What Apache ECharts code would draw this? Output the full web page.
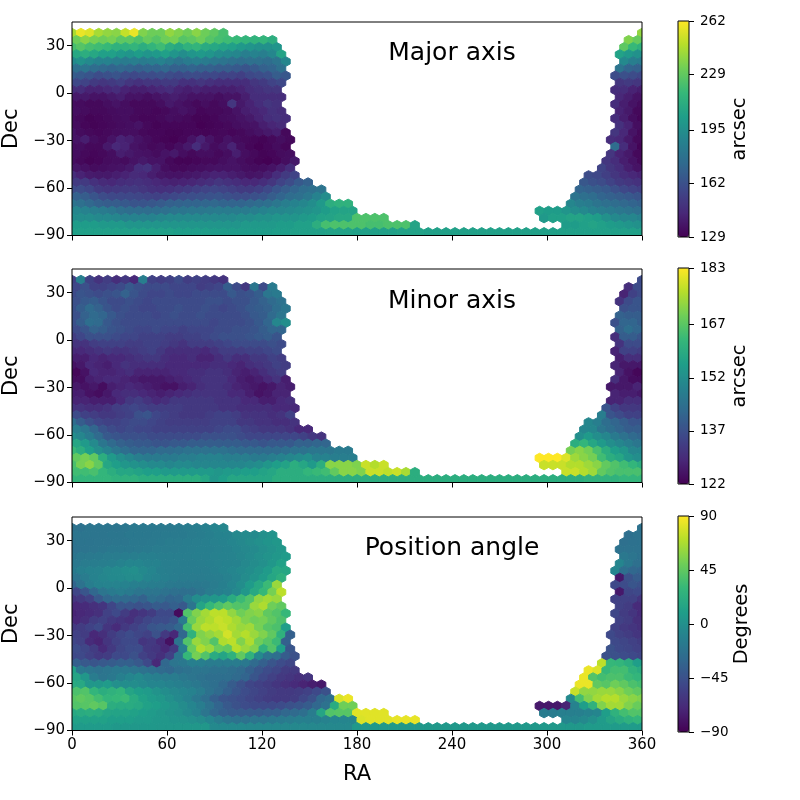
<!DOCTYPE html>
<html>
<head>
<meta charset="utf-8">
<script src="https://cdn.jsdelivr.net/npm/echarts@6/dist/echarts.min.js"></script>
<style>html,body{margin:0;background:#fff}#c{width:800px;height:800px}</style>
</head>
<body>
<div id="c"></div>
<script>
// row centres in Dec, top to bottom
const decRows = [38,33.5,29,24.5,20,15.5,11,6.5,2,-2.5,-7,-11.5,-16,-20.5,-25,-29.5,-34,-38.5,-43,-47.5,-52,-56.5,-61,-65.5,-70,-74.5,-79,-83.5,-88];
const raTicks = [0,60,120,180,240,300,360];
const decTicks = [-90,-60,-30,0,30];
const panelNames = ['Major axis','Minor axis','Position angle'];
const units = ['arcsec','arcsec','Degrees'];
const majorTicks = [129,162,195,229,262];
const minorTicks = [122,137,152,167,183];
const angleTicks = [-90,-45,0,45,90];
const viridis = ['#440154','#482878','#3e4989','#31688e','#26828e','#1f9e89','#35b779','#6ece58','#b5de2b','#fde725'];

// left block of every row, read from RA 0 eastward
const majorLeft = [
[245,258,255,244,240,238,250,258,236,232,232,240,236,232,238,232,228,222],
[232,238,234,232,234,228,228,224,230,226,232,234,226,228,232,226,222,220,218,216,215,216,212],
[222,226,222,220,218,214,214,216,212,216,220,212,208,214,216,210,208,206,204,200,198,196,196,198],
[208,212,208,204,204,200,198,202,198,200,204,198,194,198,200,198,194,192,190,186,188,186,190,206],
[192,196,192,188,188,186,184,186,184,186,188,184,180,184,186,184,182,180,178,176,178,178,176,180,190],
[178,180,176,174,172,174,172,170,172,172,174,170,170,172,170,170,168,168,166,164,166,170,172,178],
[168,166,164,160,162,164,160,158,160,160,162,160,158,160,160,158,158,156,156,154,158,160,162,168,165],
[158,156,152,150,152,154,150,148,150,150,152,152,148,148,150,148,146,146,146,146,150,152,156,158],
[146,146,142,142,144,146,142,140,140,142,144,146,142,140,142,140,140,140,140,142,146,148,150,150],
[138,138,136,136,138,140,136,136,134,136,138,140,138,136,136,136,134,136,136,140,146,146,146,146],
[134,133,132,132,134,136,134,132,132,132,134,138,136,134,132,134,132,134,150,138,142,146,150,148],
[134,133,132,132,133,134,134,132,132,131,132,134,136,134,131,132,132,133,136,140,142,144,148,146],
[133,132,130,131,132,133,134,132,131,131,132,134,133,132,130,130,131,133,134,136,138,142,146,148,146],
[133,131,130,131,132,133,134,136,132,130,131,131,131,131,129,130,131,132,134,135,136,140,143,145],
[136,133,132,131,132,133,134,134,132,131,131,130,130,131,131,130,131,132,131,132,134,136,138,140,132],
[136,140,134,132,136,142,140,136,133,131,130,129,131,136,142,136,132,136,133,132,131,130,132,134,132],
[134,134,132,132,138,144,142,136,134,132,133,131,134,138,146,138,133,136,142,134,131,129,131,133,131],
[134,132,131,132,134,140,138,136,135,133,136,138,134,132,134,134,132,134,140,134,132,130,131,133,134],
[134,132,130,131,133,134,133,136,138,136,136,132,130,130,131,132,132,134,136,134,132,130,129,131,134,138],
[137,135,133,134,135,136,138,146,148,140,134,132,132,133,134,135,136,136,136,134,133,134,136,140,146],
[146,142,139,138,138,140,142,145,144,140,137,136,136,137,138,140,142,142,140,138,136,137,140,146,152,156],
[152,152,148,145,144,146,147,148,146,144,142,141,142,143,145,147,150,148,146,144,144,146,150,156,160,166,170],
[160,160,157,152,150,151,152,152,150,148,147,148,150,152,154,156,157,156,154,152,152,154,158,164,168,172,176,178,180],
[170,168,164,160,158,158,158,157,156,155,156,158,160,161,162,163,164,162,160,160,162,164,168,172,176,178,182,188,194],
[180,178,174,170,168,168,166,164,164,165,167,170,171,172,172,173,174,172,172,172,174,176,178,182,186,188,190,194,200,212,214,214],
[190,188,186,184,182,178,176,176,176,177,178,180,181,182,182,183,184,184,184,184,186,188,190,190,192,194,196,198,202,205,206,206],
[194,194,194,192,192,190,188,188,188,188,190,192,192,192,192,192,192,192,192,194,194,196,196,198,198,198,200,202,205,206,208,208,224,224,224,224],
[202,202,202,200,200,200,198,198,198,198,198,198,198,198,198,198,198,198,198,200,200,200,200,202,202,204,204,212,222,224,224,224,224,222,222,224,224,224,206],
[204,204,204,204,204,204,204,204,204,204,204,204,203,203,203,203,202,202,202,202,202,202,202,203,203,204,204,204,204,205,205,205,204,204,204,204,204,205,205,205,204,204,204,204,204,204,204,204,204,204,204,204,204,204,204,204,204,204,204,204,204,204,204,204,204]
];
// right block of every row, the last value sits next to RA 360
const majorRight = [
[240],[236,230],[228,218,214],[205,200,196],[192,186,184],[180,172,170],[160,162,160,158],[150,152,150],[146,146,142,140],[144,140,136],
[146,140,136,133],[142,138,132],[146,140,134,131],[148,142,134],[150,144,136,132],[146,144,138,132],[176,146,136,130],[150,142,138,132],
[150,146,140,136,132],[156,150,146,140,136],[160,158,154,150,146,144,142],[165,162,160,156,152,150,148],
[172,170,168,166,162,158,156,154],[180,178,176,172,170,168,166,164],[190,186,184,180,178,176,174,172,170],
[204,202,202,198,194,192,188,186,184,182,180,178],[200,204,204,206,206,204,202,196,192,190,190,188],[202,202,204,206,204,202,200,198,196],[]
];

const minorLeft = [
[134,148,134,131,133,130,132,129,148,134,133,134,136,133,134,133,132,131],
[135,137,134,134,135,136,139,137,136,136,136,135,135,135,133,134,135,140,136,132,146,136,147],
[136,138,137,136,137,138,141,138,136,135,135,136,135,135,136,136,136,136,139,137,138,140,146,147],
[137,139,140,138,136,136,137,136,135,136,136,136,136,136,136,137,137,136,137,137,139,141,143,145],
[137,140,143,141,138,136,137,136,135,135,136,136,137,136,136,137,136,135,136,137,139,140,141,144,146],
[137,141,143,142,139,137,136,136,136,135,136,137,136,136,137,136,136,136,136,137,139,140,143,146],
[137,140,144,143,139,137,136,136,136,136,136,136,136,136,136,136,135,136,136,136,137,139,142,150,152],
[136,138,141,140,138,137,136,135,135,136,135,135,134,135,135,135,136,136,137,137,138,140,142,142],
[133,135,137,137,137,136,135,135,134,134,134,133,133,134,134,135,136,137,137,137,138,139,140,138],
[131,131,133,134,134,134,133,133,134,134,133,132,131,133,133,133,134,135,136,136,136,136,137,136],
[129,129,130,131,132,131,131,132,133,134,132,130,130,130,130,129,131,133,133,133,134,134,135,136],
[127,127,129,128,129,129,130,131,132,132,130,129,129,130,128,128,130,132,130,130,132,132,134,133],
[125,126,129,128,127,129,131,130,130,130,130,129,129,129,129,129,130,130,129,128,130,131,132,134,133],
[123,125,129,128,128,129,130,128,128,128,128,129,129,130,130,131,131,130,128,127,128,130,132,133],
[124,124,127,128,129,129,128,127,126,126,126,127,128,129,130,131,131,131,129,127,126,127,129,131,127],
[126,125,126,124,127,128,129,128,127,126,125,125,127,128,130,131,131,130,128,127,126,125,126,128,127],
[127,127,125,124,126,129,130,130,129,128,127,128,129,130,131,131,131,131,129,129,127,125,126,128,128],
[128,128,127,127,127,129,132,133,131,129,130,132,132,132,132,132,131,131,131,129,129,127,127,129,130],
[131,131,130,130,131,133,134,135,134,133,133,133,133,132,132,132,132,131,131,130,130,130,130,129,129,129],
[136,134,133,132,132,133,134,137,138,135,134,133,132,132,132,133,134,134,133,131,131,131,130,131,134],
[144,140,137,135,134,134,135,136,136,135,134,133,133,133,133,133,134,134,134,132,132,131,131,130,130,131],
[148,146,142,138,136,135,136,135,135,134,134,134,134,134,134,134,135,136,136,134,133,132,132,132,131,129,129],
[152,150,147,143,139,138,137,137,137,136,136,136,136,136,136,137,137,137,137,136,135,135,135,135,135,135,134,132,131],
[158,155,151,146,143,141,140,139,139,138,138,139,139,140,140,140,140,140,140,139,139,138,139,139,139,141,141,142,142],
[163,160,156,152,149,146,144,142,142,142,143,143,144,145,145,145,145,145,144,143,143,143,143,143,144,145,145,146,146,146,147,147],
[168,170,168,160,155,152,150,148,147,147,147,147,148,148,149,149,149,148,148,148,147,147,148,149,150,151,152,149,149,148,148,148],
[165,170,172,168,158,156,154,153,152,151,151,150,151,151,150,150,150,150,150,150,151,152,154,156,157,160,158,155,160,172,172,172,171,178,176,178],
[164,164,165,162,160,158,158,157,156,156,155,155,155,155,155,155,154,155,155,156,156,157,158,160,160,160,162,163,164,168,172,172,171,178,178,177,178,175,160],
[162,162,162,162,162,161,161,161,160,160,160,160,160,160,160,158,154,156,158,158,158,158,158,160,160,160,160,160,160,160,160,160,160,160,160,160,160,160,160,160,160,160,160,160,160,160,160,160,160,160,160,160,160,160,160,160,160,160,161,161,161,161,162,162,162]
];
const minorRight = [
[136],[130,136],[128,134,136],[131,136,138],[137,138,138],[141,140,140],[137,142,142,140],[141,144,142],[130,140,140,138],[131,136,136],
[128,134,134,133],[127,130,130],[128,126,126,126],[128,125,123],[130,126,124,124],[126,126,126,128],[128,127,127,126],[128,128,130,130],
[138,134,132,132,132],[148,138,136,134,134],[150,148,144,142,140,138,138],[150,150,146,144,142,140,140],
[152,155,152,150,147,145,143,142],[160,162,158,155,152,150,148,146],[170,172,170,165,160,156,154,150,150],
[183,183,183,180,174,172,170,164,160,158,154,152],[178,178,178,176,176,174,172,168,166,164,162,160],[178,178,176,174,168,166,165,165,165],[]
];

const angleLeft = [
[-22,-22,-20,-20,-20,-20,-19,-18,-18,-18,-17,-17,-16,-15,-14,-12,-9,-7],
[-20,-20,-20,-20,-19,-19,-18,-18,-18,-17,-16,-16,-16,-15,-14,-12,-10,-9,-6,-4,-4,0,2],
[-22,-21,-21,-20,-20,-19,-19,-18,-18,-17,-16,-15,-15,-14,-13,-12,-11,-10,-8,-6,-3,0,3,5],
[-22,-21,-20,-19,-18,-18,-18,-17,-16,-15,-15,-15,-14,-13,-12,-12,-11,-10,-8,-6,-4,-1,2,5],
[-20,-18,-17,-16,-15,-15,-14,-13,-12,-12,-13,-13,-13,-13,-12,-12,-11,-10,-9,-7,-4,-1,2,5,8],
[-18,-15,-14,-13,-12,-10,-8,-8,-10,-10,-13,-13,-14,-14,-13,-12,-11,-10,-9,-6,-3,0,5,12],
[-16,-12,-10,-9,-6,-4,-2,-1,-5,-8,-12,-13,-14,-14,-14,-14,-12,-10,-8,-5,-2,2,8,18,16],
[-20,-15,-10,-7,-5,-4,-3,-3,-8,-10,-12,-14,-15,-15,-15,-14,-13,-11,-8,-3,2,8,16,24],
[-32,-22,-14,-10,-9,-9,-10,-12,-13,-14,-15,-17,-18,-18,-18,-17,-15,-12,-8,-2,8,18,32,62],
[-52,-42,-30,-20,-16,-14,-16,-20,-20,-20,-22,-24,-25,-24,-20,-15,-12,-10,-5,5,18,30,52,72],
[-62,-60,-55,-40,-30,-26,-28,-30,-34,-25,-28,-32,-30,-15,-2,2,5,8,20,32,40,60,65,62],
[-70,-68,-65,-62,-52,-42,-42,-45,-42,-38,-40,-35,-40,-20,15,30,38,45,40,40,62,68,50,45],
[-72,-70,-68,-65,-55,-50,-58,-65,-62,-58,-50,-50,-85,40,55,65,72,72,60,50,55,58,45,40,30],
[-70,-66,-58,-55,-60,-62,-65,-58,-52,-48,-48,-42,-15,48,62,68,75,72,65,55,50,52,45,38],
[-60,-58,-54,-50,-62,-68,-60,-55,-50,-42,-40,-38,-30,35,62,72,72,75,68,62,64,52,42,38,10],
[-55,-58,-70,-66,-58,-52,-48,-52,-55,-45,-60,-70,-30,25,55,60,65,78,65,70,62,55,45,25,-35],
[-52,-55,-68,-72,-62,-55,-50,-50,-62,-60,-68,-82,-20,40,62,55,40,68,72,55,68,50,42,32,-35],
[-48,-52,-58,-68,-60,-52,-48,-48,-60,-62,-70,-60,-12,48,68,62,48,45,70,62,55,25,40,10,-42],
[-50,-50,-55,-60,-58,-50,-50,-45,-55,-60,-65,-55,-20,30,52,40,20,15,25,45,25,-5,-20,-25,-38,-45],
[-35,-40,-42,-40,-38,-35,-35,-40,-50,-70,-30,-20,-18,-12,-12,-15,-15,-15,-15,-18,-28,-35,-42,-48,-52],
[12,-18,-20,-22,-20,-18,-18,-20,-22,-25,-28,-30,-25,-22,-20,-20,-22,-22,-25,-28,-35,-42,-48,-52,-58,-60],
[15,5,-15,-20,-18,-12,-8,-5,-10,-12,-15,-15,-18,-20,-22,-25,-25,-25,-28,-32,-42,-50,-55,-60,-62,-65,-62],
[20,18,5,5,8,0,-2,-2,-5,-8,-8,-10,-12,-15,-18,-22,-25,-30,-38,-45,-52,-55,-58,-62,-65,-68,-72,-75,-78],
[38,40,28,22,25,28,15,10,8,2,-2,-6,-8,-10,-15,-22,-28,-35,-42,-48,-52,-55,-58,-60,-60,-58,-55,-50,-45],
[42,45,42,35,28,30,32,20,12,8,5,0,-5,-10,-18,-25,-35,-42,-45,-48,-52,-55,-58,-60,-60,-58,-52,-45,-30,-25,80,85],
[40,42,45,42,22,20,20,18,12,10,6,2,-3,-8,-14,-22,-32,-40,-45,-48,-50,-50,-50,-48,-45,-42,-38,-30,-22,20,50,50],
[18,20,22,20,15,14,14,12,10,8,5,2,0,-5,-10,-20,-30,-35,-38,-38,-38,-38,-36,-35,-30,-28,-25,-15,15,40,42,42,82,82,82,82],
[12,12,12,12,10,10,10,8,8,6,5,3,2,0,-3,-8,-15,-20,-22,-22,-20,-20,-18,-16,-15,-12,-12,-12,-10,-8,-8,-8,80,82,82,82,84,84,84],
[8,8,8,8,8,6,6,6,6,6,5,5,5,5,5,5,-5,-5,-5,-5,-6,-6,-6,-6,-6,-6,-6,-6,-6,-6,-6,-6,6,6,6,6,6,6,6,6,6,6,6,6,6,6,6,6,6,6,6,6,6,6,6,6,6,6,8,8,8,8,8,8,8]
];
const angleRight = [
[-22],[-25,-22],[-24,-23,-22],[-22,-22,-22],[-18,-20,-22],[-8,-18,-24],[-8,-25,-30,-32],[-78,-45,-38],[-50,-48,-42,-45],[-78,-52,-50],
[-55,-55,-55,-62],[-55,-58,-68],[-52,-58,-62,-68],[-55,-58,-66],[-55,-60,-62,-65],[-50,-55,-58,-62],[-50,-52,-55,-58],[-45,-50,-52,-55],
[-45,-45,-48,-50,-52],[72,30,28,22,10],[85,80,30,35,35,25,20],[85,40,35,38,38,32,28],
[85,85,45,42,50,45,38,35],[75,60,60,62,62,58,50,45],[-5,35,55,65,70,70,62,58,55],
[-78,-78,-78,-72,-10,10,25,55,65,65,55,48],[-15,-15,-12,-12,-12,-10,-8,10,25,35,40,40],[-8,-8,-5,0,8,15,20,25,28],[]
];

const cellRa = 5.625, cellDec = 6;

function cells(left, right){
  const out = [];
  decRows.forEach((dec, r) => {
    const shift = r % 2 ? cellRa / 2 : 0;
    left[r].forEach((v, i) => out.push([shift + i * cellRa, dec, v]));
    const n = right[r].length;
    right[r].forEach((v, i) => out.push([360 - shift - (n - 1 - i) * cellRa, dec, v]));
  });
  return out;
}

function hexCell(params, api){
  const ra = api.value(0), dec = api.value(1), hw = cellRa / 2, h = cellDec / 2;
  const pts = [[ra, dec + h], [ra + hw, dec + h / 2], [ra + hw, dec - h / 2], [ra, dec - h], [ra - hw, dec - h / 2], [ra - hw, dec + h / 2]]
    .map(p => api.coord(p));
  const col = api.visual('color');
  return { type: 'polygon', shape: { points: pts }, style: { fill: col, stroke: col, lineWidth: 1 } };
}

const font = 'DejaVu Sans';
const minus = v => String(v).replace('-', '\u2212');
const panels = [
  { top: 22, barTop: 21, left: majorLeft, right: majorRight, ticks: majorTicks, textY: 53 },
  { top: 269, barTop: 268, left: minorLeft, right: minorRight, ticks: minorTicks, textY: 301 },
  { top: 517, barTop: 516, left: angleLeft, right: angleRight, ticks: angleTicks, textY: 548 }
];

const grid = [], xAxis = [], yAxis = [], series = [], visualMap = [], title = [];
panels.forEach((p, i) => {
  grid.push({ left: 72, top: p.top, width: 570, height: 213.5, show: true, borderColor: '#000', borderWidth: 1, z: 5, outerBoundsMode: 'none' });
  xAxis.push({
    type: 'value', gridIndex: i, min: 0, max: 360,
    name: i === 2 ? 'RA' : '', nameLocation: 'middle', nameGap: 34,
    nameTextStyle: { fontFamily: font, fontSize: 21, color: '#000' },
    axisLine: { show: false, onZero: false }, splitLine: { show: false },
    axisTick: { show: true, length: 5, customValues: raTicks, lineStyle: { color: '#000' } },
    axisLabel: { show: i === 2, customValues: raTicks, fontFamily: font, fontSize: 15, color: '#000', margin: 7, hideOverlap: false }
  });
  yAxis.push({
    type: 'value', gridIndex: i, min: -90, max: 45,
    name: 'Dec', nameLocation: 'middle', nameRotate: 90, nameGap: 49,
    nameTextStyle: { fontFamily: font, fontSize: 21, color: '#000' },
    axisLine: { show: false, onZero: false }, splitLine: { show: false },
    axisTick: { show: true, length: 5, customValues: decTicks, lineStyle: { color: '#000' } },
    axisLabel: { customValues: decTicks, formatter: minus, fontFamily: font, fontSize: 15, color: '#000', margin: 7 }
  });
  series.push({
    type: 'custom', xAxisIndex: i, yAxisIndex: i, coordinateSystem: 'cartesian2d',
    renderItem: hexCell, clip: true, silent: true, animation: false,
    encode: { x: 0, y: 1 }, data: cells(p.left, p.right)
  });
  const lo = p.ticks[0], hi = p.ticks[p.ticks.length - 1];
  visualMap.push({
    type: 'continuous', seriesIndex: i, dimension: 2, min: lo, max: hi, calculable: false,
    left: 678, top: p.barTop, itemWidth: 11, itemHeight: 216, padding: 0,
    inRange: { color: viridis }, hoverLink: false
  });
  title.push({
    text: panelNames[i], left: 452, top: p.textY, textAlign: 'center', textVerticalAlign: 'middle', padding: 0,
    textStyle: { fontFamily: font, fontSize: 25, fontWeight: 'normal', color: '#000' }
  });
});

// colour bar frames and ticks
panels.forEach((p, i) => {
  grid.push({ left: 678, top: p.barTop, width: 11, height: 216, show: true, borderColor: '#000', borderWidth: 1, z: 8, outerBoundsMode: 'none' });
  xAxis.push({ type: 'value', gridIndex: 3 + i, show: false, min: 0, max: 1 });
  yAxis.push({
    type: 'value', gridIndex: 3 + i, position: 'right', min: p.ticks[0], max: p.ticks[p.ticks.length - 1],
    name: units[i], nameLocation: 'middle', nameRotate: 90, nameGap: i === 2 ? 39 : 41,
    nameTextStyle: { fontFamily: font, fontSize: 19.4, color: '#000' },
    axisLine: { show: false, onZero: false }, splitLine: { show: false },
    axisTick: { show: true, length: 5, customValues: p.ticks, lineStyle: { color: '#000' } },
    axisLabel: { customValues: p.ticks, formatter: minus, fontFamily: font, fontSize: 13.5, color: '#000', margin: 11 }
  });
});

const chart = echarts.init(document.getElementById('c'));
chart.setOption({ animation: false, backgroundColor: '#fff', title, grid, xAxis, yAxis, visualMap, series });
</script>
</body>
</html>
